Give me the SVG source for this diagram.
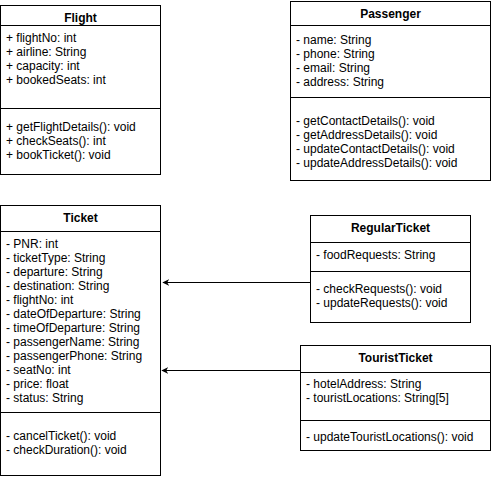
<svg xmlns="http://www.w3.org/2000/svg" width="491" height="479" viewBox="0 0 491 479">
<defs>
<style>
.box{fill:#fff;stroke:#000;stroke-width:1}
.sep{stroke:#000;stroke-width:1}
.t{font-family:"Liberation Sans",Arial,sans-serif;font-size:12px;fill:#000}
.h{font-family:"Liberation Sans",Arial,sans-serif;font-size:12px;font-weight:bold;fill:#000;text-anchor:middle}
.edge{stroke:#000;stroke-width:1;fill:none;marker-end:url(#arr)}
</style>
<marker id="arr" viewBox="0 0 10 10" refX="9" refY="5" markerWidth="7" markerHeight="7" orient="auto" markerUnits="userSpaceOnUse">
<path d="M0,0 L10,5 L0,10 L3,5 Z" fill="#000"/>
</marker>
</defs>
<rect width="491" height="479" fill="#fff"/>

<g id="flight">
<rect class="box" x="0.5" y="5.5" width="160" height="169"/>
<line class="sep" x1="0.5" y1="25.5" x2="160.5" y2="25.5"/>
<line class="sep" x1="0.5" y1="108.5" x2="160.5" y2="108.5"/>
<text class="h" x="80.5" y="22">Flight</text>
<text class="t" x="6" y="42">+ flightNo: int</text>
<text class="t" x="6" y="56">+ airline: String</text>
<text class="t" x="6" y="70">+ capacity: int</text>
<text class="t" x="6" y="84">+ bookedSeats: int</text>
<text class="t" x="6" y="131">+ getFlightDetails(): void</text>
<text class="t" x="6" y="145">+ checkSeats(): int</text>
<text class="t" x="6" y="159">+ bookTicket(): void</text>
</g>

<g id="passenger">
<rect class="box" x="290.5" y="1.5" width="200" height="179"/>
<line class="sep" x1="290.5" y1="25.5" x2="490.5" y2="25.5"/>
<line class="sep" x1="290.5" y1="97.5" x2="490.5" y2="97.5"/>
<text class="h" x="390.5" y="18">Passenger</text>
<text class="t" x="296" y="44">- name: String</text>
<text class="t" x="296" y="58">- phone: String</text>
<text class="t" x="296" y="72">- email: String</text>
<text class="t" x="296" y="86">- address: String</text>
<text class="t" x="296" y="125">- getContactDetails(): void</text>
<text class="t" x="296" y="139">- getAddressDetails(): void</text>
<text class="t" x="296" y="153">- updateContactDetails(): void</text>
<text class="t" x="296" y="167">- updateAddressDetails(): void</text>
</g>

<g id="ticket">
<rect class="box" x="0.5" y="205.5" width="160" height="270"/>
<line class="sep" x1="0.5" y1="231.5" x2="160.5" y2="231.5"/>
<line class="sep" x1="0.5" y1="412.5" x2="160.5" y2="412.5"/>
<text class="h" x="80.5" y="222">Ticket</text>
<text class="t" x="6" y="248">- PNR: int</text>
<text class="t" x="6" y="262">- ticketType: String</text>
<text class="t" x="6" y="276">- departure: String</text>
<text class="t" x="6" y="290">- destination: String</text>
<text class="t" x="6" y="304">- flightNo: int</text>
<text class="t" x="6" y="318">- dateOfDeparture: String</text>
<text class="t" x="6" y="332">- timeOfDeparture: String</text>
<text class="t" x="6" y="346">- passengerName: String</text>
<text class="t" x="6" y="360">- passengerPhone: String</text>
<text class="t" x="6" y="374">- seatNo: int</text>
<text class="t" x="6" y="388">- price: float</text>
<text class="t" x="6" y="402">- status: String</text>
<text class="t" x="6" y="440">- cancelTicket(): void</text>
<text class="t" x="6" y="454">- checkDuration(): void</text>
</g>

<g id="regularticket">
<rect class="box" x="310.5" y="215.5" width="160" height="107"/>
<line class="sep" x1="310.5" y1="242.5" x2="470.5" y2="242.5"/>
<line class="sep" x1="310.5" y1="271.5" x2="470.5" y2="271.5"/>
<text class="h" x="390.5" y="232">RegularTicket</text>
<text class="t" x="316" y="259">- foodRequests: String</text>
<text class="t" x="316" y="293">- checkRequests(): void</text>
<text class="t" x="316" y="307">- updateRequests(): void</text>
</g>

<g id="touristticket">
<rect class="box" x="300.5" y="345.5" width="190" height="105"/>
<line class="sep" x1="300.5" y1="372.5" x2="490.5" y2="372.5"/>
<line class="sep" x1="300.5" y1="420.5" x2="490.5" y2="420.5"/>
<text class="h" x="395.5" y="362">TouristTicket</text>
<text class="t" x="306" y="388">- hotelAddress: String</text>
<text class="t" x="306" y="402">- touristLocations: String[5]</text>
<text class="t" x="306" y="441">- updateTouristLocations(): void</text>
</g>

<g id="connectors">
<line class="edge" x1="310" y1="282.5" x2="163" y2="282.5"/>
<line class="edge" x1="300" y1="370.5" x2="162" y2="370.5"/>
</g>
</svg>
